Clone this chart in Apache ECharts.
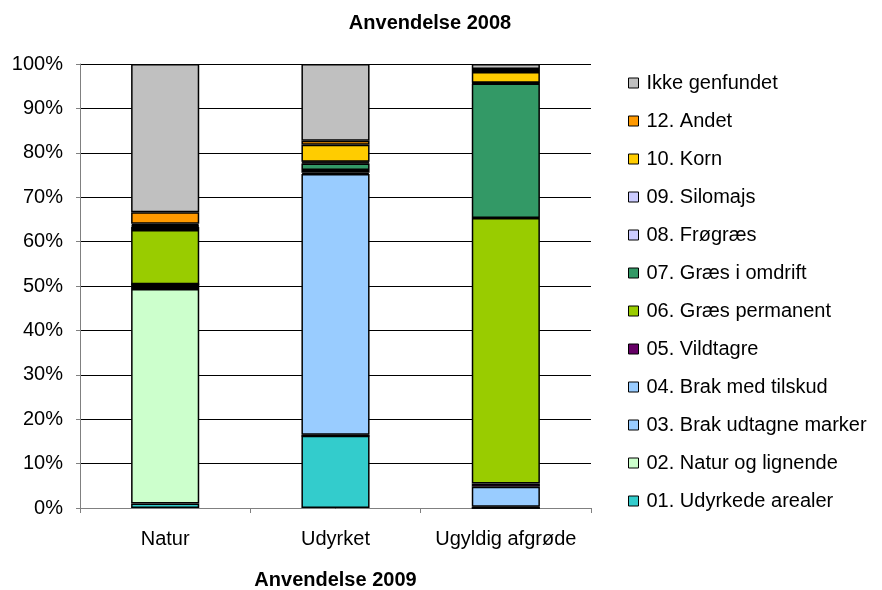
<!DOCTYPE html>
<html>
<head>
<meta charset="utf-8">
<script src="https://cdn.jsdelivr.net/npm/echarts@6/dist/echarts.min.js"></script>
<style>
  html, body { margin: 0; padding: 0; background: #fff; }
  #chart { width: 882px; height: 590px; }
</style>
</head>
<body>
<div id="chart"></div>
<script>
// Categories on the x axis (Anvendelse 2009)
const categories = ['Natur', 'Udyrket', 'Ugyldig afgrøde']

// Series names, bottom of the stack first
const seriesNames = [
  '01. Udyrkede arealer',
  '02. Natur og lignende',
  '03. Brak udtagne marker',
  '04. Brak med tilskud',
  '05. Vildtagre',
  '06. Græs permanent',
  '07. Græs i omdrift',
  '08. Frøgræs',
  '09. Silomajs',
  '10. Korn',
  '12. Andet',
  'Ikke genfundet'
]

// Percent shares per category (Natur, Udyrket, Ugyldig afgrøde)
const udyrkede = [1.0, 16.3, 0]
const naturOgLignende = [48.3, 0, 0]
const brakUdtagne = [0.5, 0.2, 0.3]
const brakTilskud = [0.6, 58.7, 4.5]
const vildtagre = [0, 0.3, 0.7]
const graesPermanent = [12.2, 0.6, 59.8]
const graesOmdrift = [0.7, 1.5, 30.3]
const froegraes = [0.2, 0.2, 0.1]
const silomajs = [0.2, 0.2, 0.1]
const korn = [0.3, 3.8, 2.4]
const andet = [2.6, 0.9, 0.7]
const ikkeGenfundet = [33.4, 17.3, 1.1]

const seriesValues = [
  udyrkede, naturOgLignende, brakUdtagne, brakTilskud, vildtagre,
  graesPermanent, graesOmdrift, froegraes, silomajs, korn, andet, ikkeGenfundet
]

const colors = [
  '#33CCCC', '#CCFFCC', '#99CCFF', '#99CCFF', '#660066', '#99CC00',
  '#339966', '#CCCCFF', '#CCCCFF', '#FFCC00', '#FF9900', '#C0C0C0'
]

const yTicks = [0, 10, 20, 30, 40, 50, 60, 70, 80, 90, 100]

const font = 'Liberation Sans, Arial, sans-serif'

const chart = echarts.init(document.getElementById('chart'), null, { renderer: 'canvas' })

const series = seriesNames.map((name, i) => ({
  name,
  type: 'bar',
  stack: 'total',
  barWidth: '40%',
  data: seriesValues[i],
  itemStyle: { color: colors[i], borderColor: '#000', borderWidth: 1.5 },
  emphasis: { disabled: true }
}))

chart.setOption({
  animation: false,
  textStyle: { fontFamily: font },
  title: {
    text: 'Anvendelse 2008',
    left: 425,
    top: 8,
    textAlign: 'center',
    textStyle: { fontFamily: font, fontSize: 20, fontWeight: 'bold', color: '#000' }
  },
  legend: {
    orient: 'vertical',
    left: 623,
    top: 68,
    itemWidth: 10,
    itemHeight: 10,
    itemGap: 18,
    icon: 'rect',
    data: seriesNames.slice().reverse(),
    itemStyle: { borderColor: '#000', borderWidth: 1 },
    textStyle: { fontFamily: font, fontSize: 20, color: '#000', lineHeight: 20, padding: [0, 0, 0, 3] }
  },
  grid: { left: 80, right: 291, top: 64, bottom: 82, containLabel: false, outerBoundsMode: 'none' },
  xAxis: {
    type: 'category',
    data: categories,
    name: 'Anvendelse 2009',
    nameLocation: 'middle',
    nameGap: 62,
    nameTextStyle: { fontFamily: font, fontSize: 20, fontWeight: 'bold', color: '#000' },
    axisLine: { lineStyle: { color: '#808080', width: 1 } },
    axisTick: { show: true, length: 5, lineStyle: { color: '#808080' } },
    axisLabel: { interval: 0, margin: 21, fontFamily: font, fontSize: 20, color: '#000' }
  },
  yAxis: {
    type: 'value',
    min: yTicks[0],
    max: yTicks[yTicks.length - 1],
    interval: 10,
    axisLine: { show: true, lineStyle: { color: '#808080', width: 1 } },
    axisTick: { show: true, length: 4, lineStyle: { color: '#808080' } },
    axisLabel: { margin: 17, fontFamily: font, fontSize: 20, color: '#000', formatter: '{value}%' },
    splitLine: { lineStyle: { color: '#000', width: 1 } }
  },
  series
})
</script>
</body>
</html>
